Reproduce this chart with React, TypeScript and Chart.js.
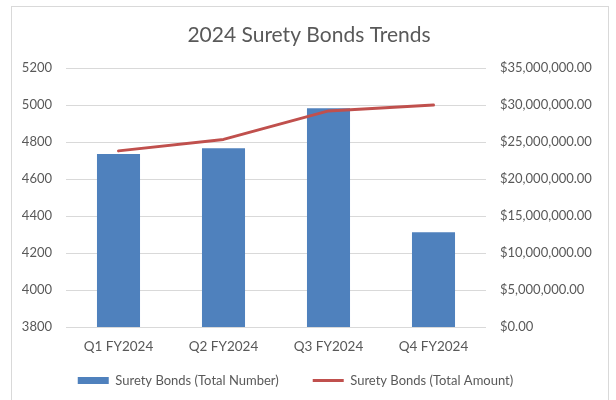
import React, { useEffect, useRef } from "react";
import { Chart, registerables } from "chart.js";

Chart.register(...registerables);

const titleText = "2024 Surety Bonds Trends";
const categories = ["Q1 FY2024", "Q2 FY2024", "Q3 FY2024", "Q4 FY2024"];
const bondCounts = [4735, 4766, 4982, 4312];
const bondAmounts = [23800000, 25350000, 29200000, 30000000];
const countLabel = "Surety Bonds (Total Number)";
const amountLabel = "Surety Bonds (Total Amount)";

const BLUE = "#4F81BD";
const RED = "#C0504D";
const TEXT = "#595959";
const GRID = "#D9D9D9";
const FONT = "Lato";

const titlePlugin = {
  id: "customTitle",
  afterDraw(chart: any) {
    const ctx = chart.ctx;
    ctx.save();
    ctx.font = `21px ${FONT}`;
    ctx.fillStyle = TEXT;
    ctx.textAlign = "center";
    ctx.textBaseline = "middle";
    ctx.fillText(titleText, 309, 35);
    ctx.restore();
  },
};

export default function App() {
  const ref = useRef<HTMLCanvasElement | null>(null);
  useEffect(() => {
    if (!ref.current) return;
    const chart = new Chart(ref.current, {
      type: "bar",
      data: {
        labels: categories,
        datasets: [
          {
            type: "bar",
            label: countLabel,
            data: bondCounts,
            backgroundColor: BLUE,
            yAxisID: "y",
            barPercentage: 0.41,
            categoryPercentage: 1,
            order: 2,
          },
          {
            type: "line",
            label: amountLabel,
            data: bondAmounts,
            borderColor: RED,
            backgroundColor: RED,
            borderWidth: 3,
            pointRadius: 0,
            borderCapStyle: "round",
            borderJoinStyle: "round",
            yAxisID: "y1",
            order: 1,
          } as any,
        ],
      },
      options: {
        responsive: false,
        animation: false,
        layout: { padding: { top: 68, left: -12.5, right: 12.5, bottom: 3 } },
        scales: {
          x: {
            grid: { display: false, drawTicks: false },
            border: { display: false },
            ticks: { color: TEXT, font: { family: FONT, size: 13.5 }, mirror: true, padding: -28 },
            afterFit(scale: any) {
              scale.height = 13;
            },
          },
          y: {
            position: "left",
            min: 3800,
            max: 5200,
            ticks: {
              stepSize: 200,
              color: TEXT,
              font: { family: FONT, size: 13 },
              padding: 14,
              callback: (v: any) => String(v),
            },
            grid: { color: GRID, drawTicks: false, lineWidth: 1 },
            border: { display: false },
            afterFit(scale: any) {
              scale.width = 78.5;
            },
          },
          y1: {
            position: "right",
            min: 0,
            max: 35000000,
            ticks: {
              stepSize: 5000000,
              color: TEXT,
              font: { family: FONT, size: 13 },
              padding: 14,
              callback: (v: any) =>
                "$" + Number(v).toLocaleString("en-US", { minimumFractionDigits: 2, maximumFractionDigits: 2 }),
            },
            grid: { drawOnChartArea: false, drawTicks: false },
            border: { display: false },
            afterFit(scale: any) {
              scale.width = 117.5;
            },
          },
        },
        plugins: {
          title: { display: false },
          tooltip: { enabled: false },
          legend: {
            position: "bottom",
            labels: {
              color: TEXT,
              font: { family: FONT, size: 13 },
              usePointStyle: true,
              pointStyleWidth: 31,
              boxHeight: 7,
              padding: 34,
              generateLabels: () => [
                {
                  text: countLabel,
                  fillStyle: BLUE,
                  strokeStyle: BLUE,
                  lineWidth: 0,
                  pointStyle: "rect",
                  fontColor: TEXT,
                  datasetIndex: 0,
                  hidden: false,
                },
                {
                  text: amountLabel,
                  fillStyle: RED,
                  strokeStyle: RED,
                  lineWidth: 3,
                  pointStyle: "line",
                  fontColor: TEXT,
                  datasetIndex: 1,
                  hidden: false,
                },
              ],
            },
          },
        },
      },
      plugins: [titlePlugin],
    } as any);
    return () => chart.destroy();
  }, []);

  return (
    <div style={{ position: "fixed", left: 0, top: 0, width: 616, height: 400, background: "#fff" }}>
      <div
        style={{
          position: "absolute",
          left: 11,
          top: 6,
          width: 598,
          height: 420,
          border: `1px solid ${GRID}`,
          boxSizing: "border-box",
        }}
      />
      <canvas ref={ref} width={616} height={400} style={{ position: "absolute", left: 0, top: 0 }} />
    </div>
  );
}
